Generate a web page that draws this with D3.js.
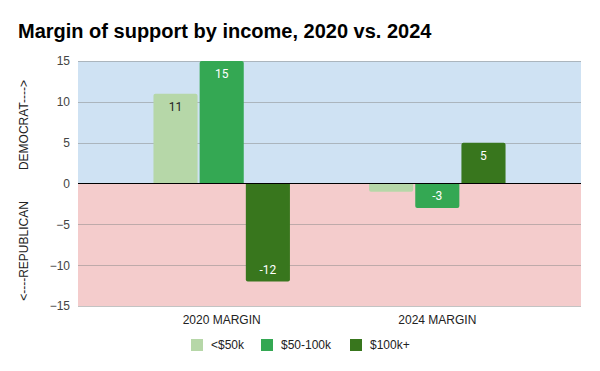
<!DOCTYPE html>
<html>
<head>
<meta charset="utf-8">
<script src="https://cdn.jsdelivr.net/npm/d3@7"></script>
<style>
  body { margin: 0; background: #fff; }
  svg { display: block; font-family: Arial, "Liberation Sans", sans-serif; }
</style>
</head>
<body>
<div id="chart"></div>
<script>
var categories = ['2020 MARGIN', '2024 MARGIN'];
var seriesNames = ['<$50k', '$50-100k', '$100k+'];
var under50 = [11, -1];
var mid50to100 = [15, -3];
var over100 = [-12, 5];
var yTicks = [-15, -10, -5, 0, 5, 10, 15];

var colors = ['#b6d7a8', '#34a853', '#38761d'];
var labelColors = ['#222', '#fff', '#fff'];

var width = 600, height = 371;
var margin = {top: 61, right: 19, bottom: 65, left: 78};
var plotW = width - margin.left - margin.right;
var plotH = height - margin.top - margin.bottom;

var series = [under50, mid50to100, over100];

var svg = d3.select('#chart').append('svg')
	.attr('width', width)
	.attr('height', height);

svg.append('text')
	.attr('x', 18)
	.attr('y', 38)
	.attr('font-size', 20)
	.attr('font-weight', 'bold')
	.attr('fill', '#000')
	.text('Margin of support by income, 2020 vs. 2024');

var g = svg.append('g')
	.attr('transform', 'translate(' + margin.left + ',' + margin.top + ')');

var y = d3.scaleLinear().domain([-15, 15]).range([plotH, 0]);

var x0 = d3.scaleBand()
	.domain(categories)
	.range([0, plotW])
	.paddingInner(0.367)
	.paddingOuter(0.35);

var x1 = d3.scaleBand()
	.domain(d3.range(seriesNames.length))
	.range([0, x0.bandwidth()])
	.paddingInner(0.045);

// background bands
g.append('rect')
	.attr('x', 0).attr('y', y(15))
	.attr('width', plotW).attr('height', y(0) - y(15))
	.attr('fill', '#cfe2f3');
g.append('rect')
	.attr('x', 0).attr('y', y(0))
	.attr('width', plotW).attr('height', y(-15) - y(0))
	.attr('fill', '#f4cccc');

// gridlines
g.selectAll('.grid')
	.data(yTicks.filter(function(d) { return d != 0; }))
	.enter()
	.append('line')
		.attr('x1', 0).attr('x2', plotW)
		.attr('y1', function(d) { return Math.round(y(d)) + 0.5; })
		.attr('y2', function(d) { return Math.round(y(d)) + 0.5; })
		.attr('stroke', '#888')
		.attr('stroke-opacity', 0.5);

// tick labels
var yAxis = d3.axisLeft(y).tickValues(yTicks).tickSize(0).tickPadding(8);
var yAxisG = g.append('g').call(yAxis);
yAxisG.select('.domain').remove();
yAxisG.selectAll('text')
	.attr('font-size', 12)
	.attr('font-family', 'Arial, "Liberation Sans", sans-serif')
	.attr('fill', '#444');

// bars
var barData = [];
series.forEach(function(s, i) {
	s.forEach(function(v, j) {
		barData.push({cat: categories[j], idx: i, value: v});
	});
});

function barPath(d) {
	var x = x0(d.cat) + x1(d.idx);
	var w = x1.bandwidth();
	var y0 = y(0), y1 = y(d.value), r = 2;
	if (d.value >= 0) {
		return 'M' + x + ',' + y0 + 'V' + (y1 + r) + 'Q' + x + ',' + y1 + ' ' + (x + r) + ',' + y1 +
			'H' + (x + w - r) + 'Q' + (x + w) + ',' + y1 + ' ' + (x + w) + ',' + (y1 + r) + 'V' + y0 + 'Z';
	}
	return 'M' + x + ',' + y0 + 'V' + (y1 - r) + 'Q' + x + ',' + y1 + ' ' + (x + r) + ',' + y1 +
		'H' + (x + w - r) + 'Q' + (x + w) + ',' + y1 + ' ' + (x + w) + ',' + (y1 - r) + 'V' + y0 + 'Z';
}

g.selectAll('.bar')
	.data(barData)
	.enter()
	.append('path')
		.attr('d', barPath)
		.attr('fill', function(d) { return colors[d.idx]; });

g.selectAll('.barlabel')
	.data(barData.filter(function(d) { return Math.abs(d.value) >= 2; }))
	.enter()
	.append('text')
		.attr('x', function(d) { return x0(d.cat) + x1(d.idx) + x1.bandwidth() / 2; })
		.attr('y', function(d) { return d.value >= 0 ? y(d.value) + 13 : y(d.value) - 12; })
		.attr('dy', '0.35em')
		.attr('text-anchor', 'middle')
		.attr('font-size', 12)
		.attr('font-family', 'Roboto, Arial, sans-serif')
		.attr('fill', function(d) { return labelColors[d.idx]; })
		.text(function(d) { return d.value; });

// zero line
g.append('line')
	.attr('x1', 0).attr('x2', plotW)
	.attr('y1', y(0)).attr('y2', y(0))
	.attr('stroke', '#000')
	.attr('stroke-width', 1);

// category labels
g.selectAll('.cat')
	.data(categories)
	.enter()
	.append('text')
		.attr('x', function(d) { return x0(d) + x0.bandwidth() / 2; })
		.attr('y', plotH + 18)
		.attr('text-anchor', 'middle')
		.attr('font-size', 12)
		.attr('fill', '#222')
		.text(function(d) { return d; });

// axis title
svg.append('text')
	.attr('transform', 'translate(28,' + 125 + ') rotate(-90)')
	.attr('text-anchor', 'middle')
	.attr('font-size', 12)
	.attr('fill', '#222')
	.text('DEMOCRAT---->');
svg.append('text')
	.attr('transform', 'translate(28,' + 251 + ') rotate(-90)')
	.attr('text-anchor', 'middle')
	.attr('font-size', 12)
	.attr('fill', '#222')
	.text('<----REPUBLICAN');

// legend
var legendX = [191, 261, 350];
var legend = svg.selectAll('.legend')
	.data(seriesNames)
	.enter()
	.append('g')
		.attr('transform', function(d, i) { return 'translate(' + legendX[i] + ',339)'; });
legend.append('rect')
	.attr('width', 12).attr('height', 12)
	.attr('fill', function(d, i) { return colors[i]; });
legend.append('text')
	.attr('x', 20)
	.attr('y', 6)
	.attr('dy', '0.35em')
	.attr('font-size', 12)
	.attr('fill', '#222')
	.text(function(d) { return d; });
</script>
</body>
</html>
